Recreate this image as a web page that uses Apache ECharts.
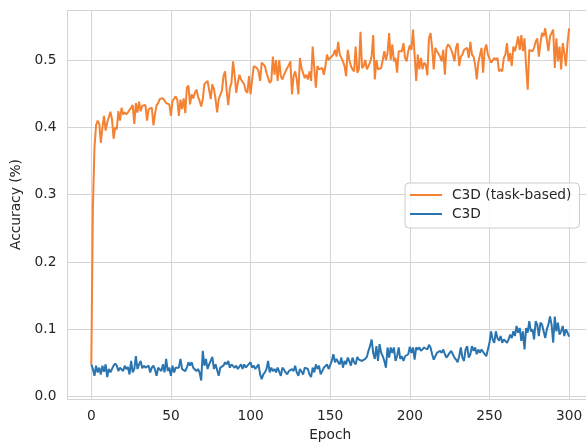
<!DOCTYPE html>
<html><head><meta charset="utf-8">
<script src="https://cdn.jsdelivr.net/npm/echarts@6/dist/echarts.min.js"></script>
<style>html,body{margin:0;padding:0;background:#fff;overflow:hidden}#c{width:593px;height:447px}</style>
</head><body><div id="c"></div>
<script>
const seriesNames = ['C3D (task-based)', 'C3D'];
const xTicks = [0, 50, 100, 150, 200, 250, 300];
const yTicks = [0.0, 0.1, 0.2, 0.3, 0.4, 0.5];

const taskBased = [
0.048,0.28,0.37,0.403,0.41,0.405,0.377,0.40,0.417,0.395,
0.407,0.415,0.423,0.412,0.383,0.400,0.397,0.424,0.410,0.429,
0.419,0.422,0.419,0.422,0.426,0.429,0.433,0.405,0.436,0.422,
0.438,0.424,0.432,0.430,0.433,0.410,0.427,0.429,0.429,0.403,
0.420,0.433,0.436,0.442,0.443,0.443,0.441,0.436,0.435,0.434,
0.417,0.439,0.438,0.446,0.441,0.417,0.441,0.427,0.443,0.421,
0.459,0.462,0.434,0.449,0.443,0.451,0.456,0.446,0.439,0.431,
0.442,0.464,0.466,0.469,0.471,0.442,0.464,0.457,0.442,0.422,
0.442,0.448,0.454,0.476,0.483,0.454,0.433,0.458,0.466,0.498,
0.478,0.451,0.466,0.478,
0.471,0.469,0.464,0.454,0.451,0.476,0.449,0.471,0.491,0.493,
0.488,0.483,0.469,0.496,0.498,0.491,0.481,0.483,0.466,0.469,
0.505,0.478,0.500,0.469,0.500,0.476,0.471,0.478,0.483,0.488,
0.492,
0.498,0.449,0.476,0.483,0.471,0.449,0.503,0.488,0.486,0.473,
0.478,0.471,0.483,0.469,0.520,0.488,0.459,0.491,0.486,0.486,
0.488,0.478,0.491,0.508,0.500,0.503,0.503,0.508,0.515,0.505,
0.527,0.508,0.503,0.498,0.491,0.476,0.515,0.500,0.491,0.486,
0.483,0.520,0.481,0.486,0.542,0.488,0.491,0.500,0.486,0.491,
0.496,0.505,0.537,0.471,0.500,0.486,0.486,0.488,0.500,0.513,
0.500,0.510,0.540,0.500,0.523,0.498,0.503,0.481,0.513,0.513,
0.513,0.525,0.503,0.498,0.513,0.522,
0.515,0.545,0.508,0.469,0.508,0.486,0.503,0.486,0.496,0.493,
0.477,0.532,0.540,0.518,0.486,0.518,0.513,0.515,0.505,
0.498,0.515,0.478,0.518,0.523,0.520,0.515,0.508,0.498,0.518,
0.525,0.491,0.505,0.508,0.515,0.515,0.518,0.503,0.527,0.508,
0.505,0.493,0.471,0.496,0.498,0.518,0.481,0.515,0.523,0.508,
0.508,0.496,0.498,0.503,0.500,0.503,0.483,0.486,0.483,0.503,
0.508,0.525,0.498,0.510,0.491,0.520,0.513,0.523,0.535,0.515,
0.537,0.513,0.532,0.491,0.456,0.515,0.515,0.513,0.518,0.527,
0.532,0.505,0.525,0.540,0.535,0.547,0.530,0.513,0.535,0.537,
0.545,0.488,0.532,0.498,0.520,0.486,0.525,0.510,0.491,0.525,
0.547
];

const plain = [
0.048,0.041,0.031,0.046,0.036,0.043,0.033,0.046,0.037,0.048,
0.029,0.041,0.036,0.041,0.046,0.049,0.046,0.038,0.043,0.043,
0.038,0.046,0.041,0.044,0.033,0.053,0.036,0.041,0.060,0.041,
0.048,0.053,0.042,0.046,0.043,0.041,0.046,0.036,0.043,0.046,
0.040,
0.031,0.043,0.041,0.038,0.048,0.036,0.056,0.038,0.043,0.031,
0.046,0.036,0.043,0.041,0.043,0.056,0.041,0.043,0.038,0.043,
0.051,0.046,0.051,0.043,0.043,0.038,0.041,0.036,0.024,0.068,
0.046,0.056,0.041,0.048,0.046,0.059,0.041,0.048,0.046,0.031,
0.043,0.043,0.046,0.051,0.048,0.053,0.043,0.048,0.046,0.043,
0.046,0.041,
0.043,0.048,0.041,0.048,0.043,0.046,0.048,0.051,0.043,0.046,
0.041,0.043,0.048,0.033,0.026,0.033,0.036,0.041,0.053,0.036,
0.043,0.038,0.041,0.036,0.043,0.041,0.031,0.043,
0.040,
0.036,0.033,0.038,0.036,0.041,0.038,0.046,0.036,0.031,0.041,
0.043,0.033,0.043,0.041,0.041,0.033,0.029,0.043,0.036,0.048,
0.041,0.046,0.033,0.038,0.043,
0.045,
0.048,0.041,0.041,0.053,0.063,0.051,0.056,0.051,0.048,0.058,
0.043,0.053,0.048,0.058,0.053,0.046,0.058,0.051,0.048,0.059,
0.055,
0.053,0.053,0.051,0.056,0.059,0.068,0.075,0.085,0.065,0.056,
0.075,0.053,0.078,0.065,0.060,0.053,0.043,0.073,0.058,0.073,
0.065,0.073,0.053,0.060,0.073,0.056,0.060,0.053,0.060,
0.058,0.063,0.074,0.065,0.073,0.055,0.073,0.070,0.073,0.068,
0.070,0.073,0.075,0.070,0.077,0.073,0.063,0.055,0.060,0.065,
0.063,0.068,0.065,0.070,0.063,0.058,0.060,0.065,0.068,0.063,
0.058,0.055,0.051,0.060,0.073,0.058,0.053,0.070,0.075,0.058,
0.063,0.075,0.068,0.073,0.063,0.070,0.065,0.070,0.068,0.063,
0.060,0.070,0.080,0.097,0.085,0.080,0.097,0.087,0.083,0.090,
0.080,0.085,0.087,0.080,0.085,0.092,0.087,0.097,0.090,0.105,
0.095,0.102,0.083,0.097,0.070,0.102,0.095,0.112,0.097,0.100,
0.085,0.112,0.107,0.090,0.110,0.107,0.097,0.087,0.100,0.107,
0.119,0.107,0.080,0.119,0.097,0.110,0.092,0.097,0.105,0.090,
0.100,0.095,0.089
];

const FONT = 'DejaVu Sans';
const TXT = '#262626';
const GRIDC = '#d4d4d4';
const COLORS = ['#f58233', '#2a75b0'];
const toPairs = arr => arr.map((v, i) => [i, v]);

const chart = echarts.init(document.getElementById('c'), null, {renderer: 'canvas'});
chart.setOption({
  animation: false,
  backgroundColor: '#ffffff',
  grid: {left: 67.4, top: 10, right: 0, bottom: 45.3, containLabel: false},
  xAxis: {
    type: 'value', min: -15, max: 315, splitNumber: 5,
    name: 'Epoch', nameLocation: 'middle', nameGap: 29,
    nameTextStyle: {fontFamily: FONT, fontSize: 13.75, color: TXT},
    axisLine: {show: false}, axisTick: {show: false},
    axisLabel: {
      showMinLabel: false, showMaxLabel: false, margin: 10,
      fontFamily: FONT, fontSize: 13.75, color: TXT,
      formatter: v => xTicks.includes(v) ? String(v) : ''
    },
    splitLine: {show: true, lineStyle: {color: GRIDC, width: 1}}
  },
  yAxis: {
    type: 'value', min: -0.0035, max: 0.5742, splitNumber: 5,
    name: 'Accuracy (%)', nameLocation: 'middle', nameGap: 40,
    nameTextStyle: {fontFamily: FONT, fontSize: 13.75, color: TXT},
    axisLine: {show: false}, axisTick: {show: false},
    axisLabel: {
      showMinLabel: false, showMaxLabel: false, margin: 11,
      fontFamily: FONT, fontSize: 13.75, color: TXT,
      formatter: v => yTicks.some(t => Math.abs(t - v) < 1e-9) ? v.toFixed(1) : ''
    },
    splitLine: {show: true, lineStyle: {color: GRIDC, width: 1}}
  },
  legend: {
    orient: 'vertical', left: 405, top: 183,
    padding: [5, 8, 7, 5], itemGap: 5, itemWidth: 32, itemHeight: 16,
    backgroundColor: 'rgba(255,255,255,0.85)', borderColor: '#cccccc', borderWidth: 1, borderRadius: 4,
    textStyle: {fontFamily: FONT, fontSize: 13.75, color: TXT, padding: [0, 0, 0, 5]},
    data: seriesNames.map(n => ({name: n, icon: 'path://M0,7 L32,7 L32,9 L0,9 Z'}))
  },
  series: [
    {name: seriesNames[0], type: 'line', symbol: 'none', data: toPairs(taskBased),
     lineStyle: {color: COLORS[0], width: 2}, itemStyle: {color: COLORS[0]}, z: 3},
    {name: seriesNames[1], type: 'line', symbol: 'none', data: toPairs(plain),
     lineStyle: {color: COLORS[1], width: 2}, itemStyle: {color: COLORS[1]}, z: 2}
  ]
});
</script></body></html>
